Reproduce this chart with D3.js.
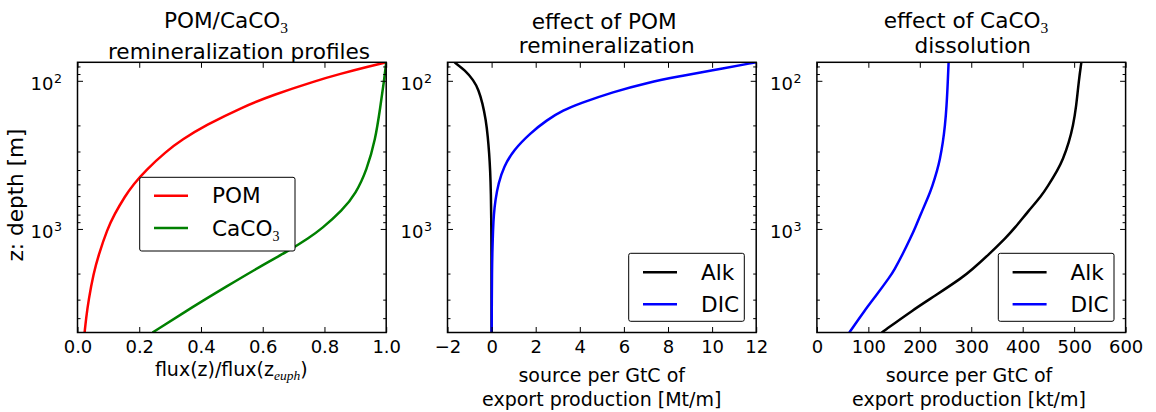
<!DOCTYPE html>
<html><head><meta charset="utf-8">
<script src="https://cdn.jsdelivr.net/npm/d3@7"></script>
<style>
body{margin:0;background:#fff}
svg{display:block}
text{font-family:"DejaVu Sans",sans-serif;fill:#000}
</style>
</head><body>
<svg id="chart" width="1156" height="412"></svg>
<script>
// ---------------- data ----------------
const depthDomain = [75, 5000];
const yMajorTicks = [100, 1000];
const yMajorExp = ["2", "3"];
const yMinorTicks = [80, 90, 200, 300, 400, 500, 600, 700, 800, 900, 2000, 3000, 4000];

// panel 1: remineralization profiles
const pomDepth = [75, 80, 90, 100, 125, 150, 200, 250, 300, 400, 500, 600, 800, 1000, 1500, 2000, 3000, 4000, 5000];
const pomFlux  = [1.0, 0.944, 0.849, 0.772, 0.631, 0.536, 0.414, 0.338, 0.287, 0.222, 0.181, 0.154, 0.119, 0.097, 0.068, 0.052, 0.036, 0.028, 0.023];
const caco3Depth = [75, 100, 150, 250, 400, 575, 750, 1000, 1150, 1400, 1800, 2450, 3350, 5000];
const caco3Flux  = [1.0, 0.993, 0.981, 0.965, 0.937, 0.902, 0.858, 0.79, 0.75, 0.685, 0.59, 0.482, 0.374, 0.243];
const xTicks1 = [0, 0.2, 0.4, 0.6, 0.8, 1.0];
const xTickLabels1 = ["0.0", "0.2", "0.4", "0.6", "0.8", "1.0"];

// panel 2: effect of POM remineralization [Mt/m]
const pomAlkDepth = [75, 85, 99, 115, 142, 184, 239, 309, 400, 574, 964, 1500, 2500, 5000];
const pomAlk      = [-1.68, -1.2, -0.82, -0.59, -0.41, -0.26, -0.17, -0.11, -0.064, -0.03, -0.012, -0.006, -0.003, -0.001];
const pomDicDepth = [75, 85, 93, 103, 119, 142, 158, 184, 226, 293, 380, 492, 637, 800, 1000, 1500, 2000, 3000, 5000];
const pomDic      = [12.0, 10.0, 8.55, 7.05, 5.5, 4.0, 3.25, 2.5, 1.75, 1.0, 0.55, 0.31, 0.17, 0.10, 0.065, 0.03, 0.018, 0.009, 0.004];
const xTicks2 = [-2, 0, 2, 4, 6, 8, 10, 12];
const xTickLabels2 = ["\u22122", "0", "2", "4", "6", "8", "10", "12"];

// panel 3: effect of CaCO3 dissolution [kt/m]
const calAlkDepth = [75, 100, 150, 200, 260, 340, 400, 520, 600, 750, 1000, 1130, 1500, 1900, 2100, 2850, 3500, 5000];
const calAlk      = [514, 509, 504, 498, 490, 478, 468, 448, 436, 412, 383, 369, 333, 300, 285, 228, 188, 126];
const calDicDepth = [75, 100, 150, 200, 260, 340, 400, 520, 600, 750, 1000, 1130, 1500, 1900, 2100, 2850, 3500, 5000];
const calDic      = [256, 254.5, 252, 249, 245, 239, 234, 224, 217, 205, 190, 183, 166, 150, 142, 114, 94, 63];
const xTicks3 = [0, 100, 200, 300, 400, 500, 600];
const xTickLabels3 = ["0", "100", "200", "300", "400", "500", "600"];

const legend1 = ["POM", "CaCO"];
const legend23 = ["Alk", "DIC"];

// ---------------- layout ----------------
const svg = d3.select("#chart");
const plotTop = 62.3, plotBottom = 332.5;
const y = d3.scaleLog().domain(depthDomain).range([plotTop, plotBottom]);

const panels = [
  {left: 77.5, right: 386.2, xdom: [0, 1], ticks: xTicks1, labels: xTickLabels1,
   series: [{d: pomDepth, v: pomFlux, c: "#ff0000"}, {d: caco3Depth, v: caco3Flux, c: "#008000"}],
   legend: {names: legend1, sub: [null, "3"], colors: ["#ff0000", "#008000"], x: 139.7, y: 177.3, w: 155.3, h: 73.7, rows: [18.4, 50.7]}},
  {left: 447.5, right: 756.2, xdom: [-2, 12], ticks: xTicks2, labels: xTickLabels2,
   series: [{d: pomAlkDepth, v: pomAlk, c: "#000000"}, {d: pomDicDepth, v: pomDic, c: "#0000ff"}],
   legend: {names: legend23, sub: [null, null], colors: ["#000000", "#0000ff"], x: 628.7, y: 253.3, w: 115.6, h: 68, rows: [19, 51]}},
  {left: 816.9, right: 1125.6, xdom: [0, 600], ticks: xTicks3, labels: xTickLabels3,
   series: [{d: calAlkDepth, v: calAlk, c: "#000000"}, {d: calDicDepth, v: calDic, c: "#0000ff"}],
   legend: {names: legend23, sub: [null, null], colors: ["#000000", "#0000ff"], x: 998.3, y: 253.3, w: 115.7, h: 68, rows: [19, 51]}}
];

const defs = svg.append("defs");

panels.forEach((p, i) => {
  const x = d3.scaleLinear().domain(p.xdom).range([p.left, p.right]);
  const g = svg.append("g");

  defs.append("clipPath").attr("id", "clip" + i)
    .append("rect").attr("x", p.left).attr("y", plotTop)
    .attr("width", p.right - p.left).attr("height", plotBottom - plotTop);

  // curves
  const line = d3.line().x(d => x(d[1])).y(d => y(d[0])).curve(d3.curveBasis);
  p.series.forEach(s => {
    g.append("path")
      .attr("clip-path", `url(#clip${i})`)
      .attr("d", line(s.d.map((dd, k) => [dd, s.v[k]])))
      .attr("fill", "none").attr("stroke", s.c).attr("stroke-width", 2.5);
  });

  // axes (ticks inside on all sides)
  const fmt = (d) => p.labels[p.ticks.indexOf(d)];
  const axB = g.append("g").attr("transform", `translate(0,${plotBottom})`)
    .call(d3.axisBottom(x).tickValues(p.ticks).tickSize(-5.5).tickPadding(7.7).tickFormat(fmt));
  const axT = g.append("g").attr("transform", `translate(0,${plotTop})`)
    .call(d3.axisTop(x).tickValues(p.ticks).tickSize(-5.5).tickFormat(""));
  const axL = g.append("g").attr("transform", `translate(${p.left},0)`)
    .call(d3.axisLeft(y).tickValues(yMajorTicks).tickSize(-5.5).tickFormat(""));
  const axLm = g.append("g").attr("transform", `translate(${p.left},0)`)
    .call(d3.axisLeft(y).tickValues(yMinorTicks).tickSize(-3).tickFormat(""));
  const axR = g.append("g").attr("transform", `translate(${p.right},0)`)
    .call(d3.axisRight(y).tickValues(yMajorTicks).tickSize(-5.5).tickFormat(""));
  const axRm = g.append("g").attr("transform", `translate(${p.right},0)`)
    .call(d3.axisRight(y).tickValues(yMinorTicks).tickSize(-3).tickFormat(""));
  [axB, axT, axL, axLm, axR, axRm].forEach(a => {
    a.select(".domain").remove();
    a.selectAll("line").attr("stroke", "#000").attr("stroke-width", 1);
  });
  axB.selectAll("text").attr("font-size", 18).attr("font-family", "DejaVu Sans").attr("fill", "#000");

  // y tick labels 10^n
  yMajorTicks.forEach((t, k) => {
    g.append("text").attr("x", p.left - 24).attr("y", y(t) + 9)
      .attr("text-anchor", "end").attr("font-size", 18).text("10");
    g.append("text").attr("x", p.left - 23.5).attr("y", y(t) + 2.4)
      .attr("font-size", 12.6).text(yMajorExp[k]);
  });

  // frame
  g.append("rect").attr("x", p.left).attr("y", plotTop)
    .attr("width", p.right - p.left).attr("height", plotBottom - plotTop)
    .attr("fill", "none").attr("stroke", "#000").attr("stroke-width", 1.5);

  // legend
  const L = p.legend;
  const lg = g.append("g");
  lg.append("rect").attr("x", L.x).attr("y", L.y).attr("width", L.w).attr("height", L.h)
    .attr("rx", 2).attr("fill", "#fff").attr("stroke", "#000").attr("stroke-width", 1);
  L.names.forEach((n, k) => {
    const ly = L.y + L.rows[k];
    lg.append("line").attr("x1", L.x + 14.3).attr("x2", L.x + 48.3)
      .attr("y1", ly).attr("y2", ly).attr("stroke", L.colors[k]).attr("stroke-width", 2.5);
    const t = lg.append("text").attr("x", L.x + 72.3).attr("y", ly + 7.7).attr("font-size", 21.6).text(n);
    if (L.sub[k]) {
      t.append("tspan").attr("font-family", "Liberation Serif").attr("font-size", 14)
        .attr("dy", 5).text(L.sub[k]);
    }
  });
});

// titles
function title(cx, y1, y2, line1, sub1, line2, cx2) {
  const t = svg.append("text").attr("x", cx).attr("y", y1).attr("text-anchor", "middle").attr("font-size", 21.6).text(line1);
  if (sub1) t.append("tspan").attr("font-family", "Liberation Serif").attr("font-size", 15.5).attr("dy", 5).text(sub1);
  svg.append("text").attr("x", cx2).attr("y", y2).attr("text-anchor", "middle").attr("font-size", 21.6).text(line2);
}
title(226, 28.3, 59.3, "POM/CaCO", "3", "remineralization profiles", 239);
title(604.2, 29.3, 53.3, "effect of POM", null, "remineralization", 606.7);
title(966, 28.3, 53.3, "effect of CaCO", "3", "dissolution", 972.8);

// x labels
const xl1 = svg.append("text").attr("x", 231.3).attr("y", 375.7).attr("text-anchor", "middle").attr("font-size", 19).text("flux(z)/flux(z");
xl1.append("tspan").attr("font-family", "Liberation Serif").attr("font-style", "italic").attr("font-size", 13.5).attr("dy", 4.5).text("euph");
xl1.append("tspan").attr("dy", -4.5).text(")");

[[601.7, "Mt/m"], [969, "kt/m"]].forEach(([cx, unit]) => {
  svg.append("text").attr("x", cx).attr("y", 381.7).attr("text-anchor", "middle").attr("font-size", 19).text("source per GtC of");
  svg.append("text").attr("x", cx).attr("y", 405.7).attr("text-anchor", "middle").attr("font-size", 19).text(`export production [${unit}]`);
});

// y label
svg.append("text").attr("transform", "translate(22.5,195) rotate(-90)")
  .attr("text-anchor", "middle").attr("font-size", 21.6).text("z: depth [m]");
</script>
</body></html>
